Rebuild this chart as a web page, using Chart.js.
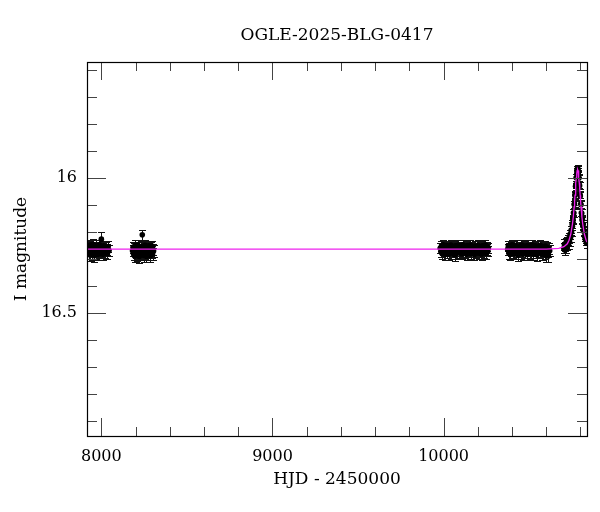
<!DOCTYPE html>
<html>
<head>
<meta charset="utf-8">
<title>OGLE-2025-BLG-0417</title>
<script src="https://cdn.jsdelivr.net/npm/chart.js@4/dist/chart.umd.min.js"></script>
<style>
  html, body { margin: 0; padding: 0; background: #fff; }
  #wrap { width: 600px; height: 512px; }
</style>
</head>
<body>
<div id="wrap"><canvas id="lc" width="600" height="512"></canvas></div>
<script>
// season 1
var t1 = [7922, 7925, 7928, 7930, 7933, 7936, 7938, 7941, 7944, 7947, 7950, 7953, 7956, 7959, 7962, 7965, 7968, 7971, 7974, 7977,
          7980, 7983, 7986, 7989, 7992, 7995, 7998, 8000, 8003, 8006, 8010, 8014, 8018, 8022, 8026, 8030, 8035, 8040, 8045];
var m1 = [16.268, 16.255, 16.279, 16.262, 16.286, 16.250, 16.271, 16.259, 16.283, 16.266, 16.248, 16.274, 16.261, 16.289, 16.257, 16.270, 16.252, 16.280, 16.264, 16.273,
          16.256, 16.285, 16.262, 16.249, 16.277, 16.268, 16.258, 16.228, 16.272, 16.261, 16.284, 16.253, 16.269, 16.276, 16.259, 16.266, 16.281, 16.255, 16.270];
var e1 = [0.020, 0.019, 0.021, 0.020, 0.022, 0.019, 0.020, 0.021, 0.022, 0.020, 0.019, 0.021, 0.020, 0.023, 0.019, 0.020, 0.020, 0.022, 0.021, 0.020,
          0.019, 0.022, 0.020, 0.019, 0.021, 0.020, 0.020, 0.028, 0.021, 0.020, 0.022, 0.019, 0.020, 0.021, 0.020, 0.020, 0.022, 0.019, 0.021];

// season 2
var t2 = [8182, 8185, 8188, 8191, 8194, 8197, 8200, 8203, 8206, 8209, 8212, 8215, 8218, 8221, 8224, 8227, 8230, 8233, 8236, 8239,
          8242, 8245, 8248, 8251, 8254, 8257, 8260, 8263, 8266, 8269, 8272, 8275, 8278, 8281, 8284, 8287, 8290, 8293, 8296, 8299, 8302, 8305];
var m2 = [16.271, 16.258, 16.283, 16.264, 16.290, 16.252, 16.275, 16.262, 16.287, 16.268, 16.250, 16.279, 16.259, 16.292, 16.266, 16.273, 16.255, 16.284, 16.261, 16.212,
          16.277, 16.257, 16.288, 16.265, 16.251, 16.280, 16.269, 16.291, 16.256, 16.274, 16.263, 16.285, 16.253, 16.278, 16.267, 16.289, 16.260, 16.276, 16.254, 16.282, 16.266, 16.272];
var e2 = [0.020, 0.021, 0.022, 0.020, 0.023, 0.019, 0.021, 0.020, 0.022, 0.021, 0.019, 0.022, 0.020, 0.023, 0.021, 0.020, 0.020, 0.022, 0.021, 0.018,
          0.021, 0.020, 0.023, 0.020, 0.019, 0.022, 0.021, 0.023, 0.020, 0.021, 0.020, 0.022, 0.019, 0.021, 0.020, 0.023, 0.020, 0.021, 0.019, 0.022, 0.020, 0.021];

// season 3
var t3 = [9980, 9984, 9987, 9991, 9995, 9998, 10002, 10006, 10009, 10013, 10017, 10020, 10024, 10028, 10031, 10035, 10039, 10042, 10046, 10050,
          10053, 10057, 10061, 10064, 10068, 10072, 10075, 10079, 10083, 10086, 10090, 10094, 10097, 10101, 10105, 10108, 10112, 10116, 10119, 10123,
          10127, 10130, 10134, 10138, 10141, 10145, 10149, 10152, 10156, 10160, 10163, 10167, 10171, 10174, 10178, 10182, 10185, 10189, 10193, 10196,
          10200, 10204, 10207, 10211, 10215, 10218, 10222, 10226, 10229, 10233, 10237, 10240, 10244, 10248, 10251, 10255, 10259, 10262];
var m3 = [16.262, 16.275, 16.254, 16.281, 16.266, 16.249, 16.272, 16.259, 16.284, 16.263, 16.252, 16.277, 16.268, 16.256, 16.283, 16.261, 16.270, 16.250, 16.279, 16.265,
          16.257, 16.274, 16.262, 16.286, 16.253, 16.269, 16.258, 16.280, 16.264, 16.251, 16.276, 16.260, 16.271, 16.255, 16.282, 16.267, 16.249, 16.273, 16.261, 16.278,
          16.256, 16.265, 16.284, 16.252, 16.270, 16.259, 16.275, 16.263, 16.250, 16.281, 16.268, 16.257, 16.273, 16.262, 16.285, 16.254, 16.266, 16.277, 16.260, 16.271,
          16.251, 16.279, 16.264, 16.256, 16.274, 16.261, 16.283, 16.253, 16.269, 16.258, 16.276, 16.263, 16.250, 16.280, 16.267, 16.255, 16.272, 16.260];
var e3 = [0.019, 0.020, 0.018, 0.021, 0.019, 0.018, 0.020, 0.019, 0.021, 0.020, 0.018, 0.020, 0.019, 0.018, 0.021, 0.019, 0.020, 0.018, 0.021, 0.019,
          0.018, 0.020, 0.019, 0.022, 0.018, 0.020, 0.019, 0.021, 0.019, 0.018, 0.020, 0.019, 0.020, 0.018, 0.021, 0.020, 0.018, 0.020, 0.019, 0.021,
          0.018, 0.019, 0.021, 0.018, 0.020, 0.019, 0.020, 0.019, 0.018, 0.021, 0.020, 0.018, 0.020, 0.019, 0.022, 0.018, 0.019, 0.020, 0.019, 0.020,
          0.018, 0.021, 0.019, 0.018, 0.020, 0.019, 0.021, 0.018, 0.020, 0.019, 0.020, 0.019, 0.018, 0.021, 0.020, 0.018, 0.020, 0.019];

// season 4
var t4 = [10374, 10378, 10381, 10385, 10389, 10392, 10396, 10400, 10403, 10407, 10411, 10414, 10418, 10422, 10425, 10429, 10433, 10436, 10440, 10444,
          10447, 10451, 10455, 10458, 10462, 10466, 10469, 10473, 10477, 10480, 10484, 10488, 10491, 10495, 10499, 10502, 10506, 10510, 10513, 10517,
          10521, 10524, 10528, 10532, 10535, 10539, 10543, 10546, 10550, 10554, 10557, 10561, 10565, 10568, 10572, 10576, 10579, 10583, 10587, 10590,
          10594, 10598, 10601, 10605, 10609, 10612, 10616, 10620];
var m4 = [16.266, 16.253, 16.279, 16.261, 16.284, 16.257, 16.271, 16.249, 16.276, 16.263, 16.255, 16.282, 16.268, 16.251, 16.274, 16.260, 16.287, 16.265, 16.256, 16.270,
          16.262, 16.279, 16.250, 16.273, 16.258, 16.283, 16.267, 16.254, 16.277, 16.264, 16.259, 16.285, 16.252, 16.272, 16.261, 16.280, 16.256, 16.269, 16.275, 16.250,
          16.266, 16.283, 16.258, 16.271, 16.253, 16.278, 16.263, 16.286, 16.255, 16.268, 16.260, 16.276, 16.251, 16.273, 16.265, 16.284, 16.257, 16.270, 16.262, 16.279,
          16.254, 16.288, 16.267, 16.259, 16.274, 16.290, 16.263, 16.271];
var e4 = [0.020, 0.019, 0.021, 0.020, 0.022, 0.019, 0.020, 0.019, 0.021, 0.020, 0.019, 0.021, 0.020, 0.019, 0.020, 0.019, 0.022, 0.020, 0.019, 0.020,
          0.019, 0.021, 0.018, 0.020, 0.019, 0.022, 0.020, 0.019, 0.021, 0.020, 0.019, 0.022, 0.019, 0.020, 0.019, 0.021, 0.019, 0.020, 0.021, 0.018,
          0.020, 0.022, 0.019, 0.020, 0.019, 0.021, 0.020, 0.022, 0.019, 0.020, 0.019, 0.021, 0.018, 0.020, 0.020, 0.022, 0.019, 0.020, 0.019, 0.021,
          0.019, 0.023, 0.020, 0.019, 0.020, 0.023, 0.020, 0.021];

// season 5 (the event)
var t5 = [10702, 10706, 10709, 10712, 10715, 10718, 10721, 10724, 10727, 10730, 10733, 10736, 10739, 10742, 10745, 10748, 10751, 10753, 10755, 10757,
          10759, 10761, 10763, 10765, 10767, 10769, 10771, 10773, 10775, 10777, 10779, 10780, 10781, 10782, 10783, 10784, 10785, 10786, 10787, 10789,
          10791, 10793, 10795, 10797, 10799, 10801, 10803, 10805, 10807, 10809, 10811, 10813, 10815, 10818, 10821, 10824, 10827, 10830, 10833, 10836];
var m5 = [16.262, 16.248, 16.268, 16.255, 16.241, 16.262, 16.238, 16.252, 16.231, 16.246, 16.224, 16.235, 16.210, 16.221, 16.195, 16.202, 16.172, 16.180, 16.152, 16.158,
          16.130, 16.131, 16.100, 16.097, 16.066, 16.062, 16.032, 16.026, 16.001, 15.999, 15.976, 15.984, 15.970, 15.976, 15.965, 15.978, 15.969, 15.985, 15.979, 16.000,
          16.002, 16.027, 16.030, 16.063, 16.068, 16.098, 16.101, 16.130, 16.132, 16.157, 16.154, 16.179, 16.174, 16.199, 16.196, 16.219, 16.212, 16.233, 16.226, 16.243];
var e5 = [0.018, 0.019, 0.018, 0.017, 0.019, 0.018, 0.017, 0.018, 0.019, 0.017, 0.018, 0.017, 0.016, 0.017, 0.016, 0.015, 0.016, 0.015, 0.015, 0.014,
          0.015, 0.014, 0.014, 0.013, 0.014, 0.013, 0.013, 0.012, 0.013, 0.012, 0.012, 0.013, 0.012, 0.012, 0.012, 0.013, 0.012, 0.012, 0.013, 0.012,
          0.013, 0.013, 0.014, 0.013, 0.014, 0.014, 0.015, 0.014, 0.015, 0.015, 0.016, 0.015, 0.016, 0.016, 0.017, 0.016, 0.017, 0.017, 0.018, 0.017];

// model light curve
var modelT = [7916, 10600, 10673, 10703, 10723, 10733, 10743, 10753, 10758, 10763, 10765.5, 10768, 10770.5, 10773, 10775.5, 10778, 10780.5, 10783,
              10785.5, 10788, 10790.5, 10793, 10795.5, 10798, 10800.5, 10803, 10808, 10813, 10823, 10833, 10838];
var modelM = [16.265, 16.265, 16.262, 16.256, 16.245, 16.232, 16.210, 16.172, 16.145, 16.108, 16.087, 16.065, 16.042, 16.020, 16.001, 15.985, 15.974, 15.970,
              15.974, 15.985, 16.001, 16.020, 16.042, 16.065, 16.087, 16.108, 16.145, 16.172, 16.210, 16.232, 16.239];

// axes
var xMin = 7916, xMax = 10838;
var yMin = 15.572, yMax = 16.957;
var xMajor = [8000, 9000, 10000];
var xMinor = [8200, 8400, 8600, 8800, 9200, 9400, 9600, 9800, 10200, 10400, 10600, 10800];
var yMajor = [16, 16.5];
var yMinor = [15.6, 15.7, 15.8, 15.9, 16.1, 16.2, 16.3, 16.4, 16.6, 16.7, 16.8, 16.9];

var serif = "'DejaVu Serif', 'Liberation Serif', serif";

function pts(t, m) {
  var out = [];
  for (var i = 0; i < Math.min(t.length, m.length); i++) out.push({x: t[i], y: m[i]});
  return out;
}

function season(t, m, e) {
  return {
    type: 'scatter',
    data: pts(t, m),
    errors: e,
    pointRadius: 2.8,
    pointBackgroundColor: '#000',
    pointBorderWidth: 0,
    showLine: false,
    order: 2
  };
}

// error bars under the points
var errorBars = {
  id: 'errorBars',
  beforeDatasetsDraw: function(chart) {
    var ctx = chart.ctx, a = chart.chartArea, x = chart.scales.x, y = chart.scales.y;
    ctx.save();
    ctx.beginPath();
    ctx.rect(a.left, a.top, a.right - a.left, a.bottom - a.top);
    ctx.clip();
    ctx.strokeStyle = '#111';
    ctx.lineWidth = 1;
    chart.data.datasets.forEach(function(ds) {
      if (!ds.errors) return;
      ds.data.forEach(function(p, i) {
        var err = ds.errors[i] || 0;
        var px = Math.round(x.getPixelForValue(p.x)) + 0.5;
        var y1 = Math.round(y.getPixelForValue(p.y - err)) + 0.5;
        var y2 = Math.round(y.getPixelForValue(p.y + err)) + 0.5;
        ctx.beginPath();
        ctx.moveTo(px, y1); ctx.lineTo(px, y2);
        ctx.moveTo(px - 3.5, y1); ctx.lineTo(px + 3.5, y1);
        ctx.moveTo(px - 3.5, y2); ctx.lineTo(px + 3.5, y2);
        ctx.stroke();
      });
    });
    ctx.restore();
  }
};

// frame and inward ticks on all four sides
var frameTicks = {
  id: 'frameTicks',
  afterDraw: function(chart) {
    var ctx = chart.ctx, a = chart.chartArea, x = chart.scales.x, y = chart.scales.y;
    ctx.save();
    ctx.strokeStyle = '#444';
    ctx.lineWidth = 1;
    ctx.beginPath();
    function xt(list, len) {
      list.forEach(function(v) {
        var px = Math.round(x.getPixelForValue(v)) + 0.5;
        ctx.moveTo(px, a.bottom); ctx.lineTo(px, a.bottom - len);
        ctx.moveTo(px, a.top); ctx.lineTo(px, a.top + len);
      });
    }
    function yt(list, len) {
      list.forEach(function(v) {
        var py = Math.round(y.getPixelForValue(v)) + 0.5;
        ctx.moveTo(a.left, py); ctx.lineTo(a.left + len, py);
        ctx.moveTo(a.right, py); ctx.lineTo(a.right - len, py);
      });
    }
    xt(xMajor, 18); xt(xMinor, 9);
    yt(yMajor, 19); yt(yMinor, 10);
    ctx.stroke();
    ctx.strokeStyle = '#000';
    ctx.lineWidth = 1.2;
    ctx.strokeRect(Math.round(a.left) + 0.5, Math.round(a.top) + 0.5, Math.round(a.right - a.left), Math.round(a.bottom - a.top));
    ctx.restore();
  }
};

new Chart(document.getElementById('lc'), {
  type: 'scatter',
  data: {
    datasets: [
      {
        type: 'line',
        data: pts(modelT, modelM),
        borderColor: '#ee22ee',
        borderWidth: 1.3,
        pointRadius: 0,
        fill: false,
        tension: 0,
        order: 0
      },
      season(t1, m1, e1),
      season(t2, m2, e2),
      season(t3, m3, e3),
      season(t4, m4, e4),
      season(t5, m5, e5)
    ]
  },
  options: {
    responsive: false,
    animation: false,
    devicePixelRatio: 1,
    layout: { padding: { left: 0, right: 13, top: 0, bottom: 0 } },
    plugins: {
      legend: { display: false },
      tooltip: { enabled: false },
      title: {
        display: true,
        fullSize: false,
        text: 'OGLE-2025-BLG-0417',
        color: '#000',
        font: { family: serif, size: 17, weight: 'normal' },
        padding: { top: 25, bottom: 16.6 }
      }
    },
    scales: {
      x: {
        type: 'linear',
        min: xMin,
        max: xMax,
        afterBuildTicks: function(s) { s.ticks = xMajor.map(function(v) { return {value: v}; }); },
        afterFit: function(s) { s.height = 76; },
        grid: { display: false, drawTicks: false },
        border: { display: false },
        ticks: {
          autoSkip: false, maxRotation: 0, padding: 11, color: '#000',
          font: { family: serif, size: 16 },
          callback: function(v) { return String(v); }
        },
        title: {
          display: true, text: 'HJD - 2450000', color: '#000',
          font: { family: serif, size: 17 },
          padding: { top: 0, bottom: 22 }
        }
      },
      y: {
        type: 'linear',
        reverse: true,
        min: yMin,
        max: yMax,
        afterBuildTicks: function(s) { s.ticks = yMajor.map(function(v) { return {value: v}; }); },
        afterFit: function(s) { s.width = 87; },
        grid: { display: false, drawTicks: false },
        border: { display: false },
        ticks: {
          autoSkip: false, padding: 10, color: '#000',
          font: { family: serif, size: 16 },
          callback: function(v) { return String(v); }
        },
        title: {
          display: true, text: 'I magnitude', color: '#000',
          font: { family: serif, size: 17 },
          padding: { top: 11, bottom: 0 }
        }
      }
    }
  },
  plugins: [errorBars, frameTicks]
});
</script>
</body>
</html>
